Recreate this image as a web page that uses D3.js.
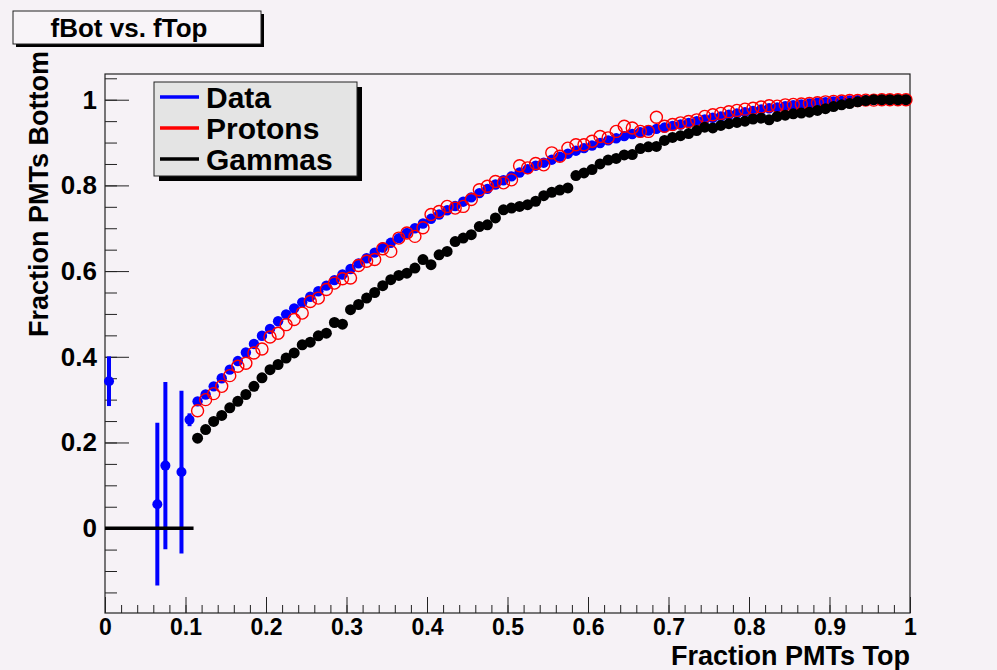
<!DOCTYPE html>
<html>
<head>
<meta charset="utf-8">
<script src="https://cdn.jsdelivr.net/npm/d3@7"></script>
<style>
  html, body { margin: 0; padding: 0; background: #f6f2f6; }
  svg { display: block; font-family: "Liberation Sans", Arial, Helvetica, sans-serif; font-weight: bold; }
</style>
</head>
<body>
<div id="chart"></div>
<script>
// profile bins (width 0.01), full bins start at 0.115
const binWidth = 0.01;
const firstBin = 0.115;

// low-statistics data bins with their error bars
const dataLowX = [0.005, 0.065, 0.075, 0.095, 0.105];
const dataLowY = [0.343, 0.056, 0.146, 0.131, 0.253];
const dataLowErr = [0.058, 0.19, 0.195, 0.19, 0.015];

// Data (blue), 0.115 .. 0.995
const dataY = [
  0.296, 0.312, 0.331, 0.350, 0.370, 0.390, 0.410, 0.430, 0.449, 0.465,
  0.483, 0.499, 0.513, 0.527, 0.540, 0.553, 0.566, 0.579, 0.592, 0.605,
  0.618, 0.630, 0.643, 0.655, 0.666, 0.677, 0.689, 0.700, 0.711, 0.722,
  0.732, 0.742, 0.752, 0.762, 0.772, 0.782, 0.792, 0.802, 0.812, 0.821,
  0.830, 0.838, 0.846, 0.853, 0.860, 0.867, 0.874, 0.881, 0.887, 0.893,
  0.899, 0.905, 0.910, 0.915, 0.920, 0.924, 0.928, 0.932, 0.935, 0.939,
  0.942, 0.946, 0.950, 0.954, 0.958, 0.961, 0.965, 0.968, 0.971, 0.974,
  0.977, 0.980, 0.982, 0.985, 0.987, 0.989, 0.991, 0.993, 0.994, 0.996,
  0.997, 0.998, 0.999, 0.999, 1.000, 1.000, 1.000, 1.000, 1.000
];

// Protons (red open circles)
const protonY = [
  0.274, 0.300, 0.314, 0.331, 0.356, 0.378, 0.385, 0.409, 0.418, 0.446,
  0.455, 0.475, 0.487, 0.502, 0.529, 0.537, 0.557, 0.572, 0.582, 0.584,
  0.613, 0.623, 0.627, 0.652, 0.646, 0.677, 0.689, 0.681, 0.701, 0.732,
  0.739, 0.751, 0.747, 0.751, 0.767, 0.790, 0.798, 0.809, 0.806, 0.813,
  0.846, 0.841, 0.851, 0.848, 0.876, 0.868, 0.887, 0.895, 0.895, 0.903,
  0.914, 0.911, 0.926, 0.938, 0.934, 0.926, 0.926, 0.959, 0.938, 0.942,
  0.946, 0.949, 0.953, 0.961, 0.965, 0.968, 0.972, 0.975, 0.978, 0.980,
  0.983, 0.986, 0.985, 0.988, 0.989, 0.990, 0.991, 0.993, 0.995, 0.996,
  0.997, 0.998, 0.998, 0.999, 0.999, 1.000, 1.000, 1.000, 1.000
];

// Gammas (black)
const gammaY = [
  0.210, 0.230, 0.249, 0.263, 0.281, 0.296, 0.312, 0.331, 0.351, 0.370,
  0.382, 0.397, 0.409, 0.428, 0.434, 0.449, 0.455, 0.480, 0.476, 0.510,
  0.522, 0.537, 0.550, 0.566, 0.580, 0.590, 0.595, 0.607, 0.627, 0.615,
  0.638, 0.646, 0.669, 0.677, 0.685, 0.704, 0.708, 0.724, 0.743, 0.747,
  0.751, 0.755, 0.763, 0.776, 0.784, 0.789, 0.794, 0.823, 0.829, 0.837,
  0.850, 0.859, 0.863, 0.871, 0.872, 0.886, 0.890, 0.891, 0.905, 0.912,
  0.916, 0.921, 0.928, 0.936, 0.934, 0.940, 0.944, 0.947, 0.950, 0.955,
  0.957, 0.953, 0.961, 0.964, 0.967, 0.969, 0.971, 0.975, 0.979, 0.984,
  0.988, 0.991, 0.995, 0.998, 1.000, 1.000, 1.000, 1.000, 1.000
];
// empty gamma bins drawn at zero
const gammaEmptyRange = [0, 0.11];

const xTicks = [0, 0.1, 0.2, 0.3, 0.4, 0.5, 0.6, 0.7, 0.8, 0.9, 1];
const yTicks = [0, 0.2, 0.4, 0.6, 0.8, 1];
const legendItems = [
  { label: 'Data', color: '#0000ff' },
  { label: 'Protons', color: '#ff0000' },
  { label: 'Gammas', color: '#000000' }
];

const cw = 997, ch = 670;
const margin = { top: 74, right: 87, bottom: 57, left: 105 };
const w = cw - margin.left - margin.right;
const h = ch - margin.top - margin.bottom;

const svg = d3.select('#chart').append('svg')
  .attr('width', cw).attr('height', ch);

svg.append('rect').attr('width', cw).attr('height', ch).attr('fill', '#f6f2f6');

const g = svg.append('g').attr('transform', `translate(${margin.left},${margin.top})`);

const x = d3.scaleLinear().domain([0, 1]).range([0, w]);
const y = d3.scaleLinear().domain([-0.198, 1.06]).range([h, 0]);

const toPts = arr => arr.map((v, i) => ({ x: firstBin + i * binWidth, y: v }));

// Frame
g.append('rect').attr('width', w).attr('height', h)
  .attr('fill', 'none').attr('stroke', '#222').attr('stroke-width', 1.2);

// X axis: major + minor ticks pointing inward
const xMinor = d3.range(0, 1.0001, 0.02);
g.append('g').attr('class', 'axis')
  .attr('transform', `translate(0,${h})`)
  .call(d3.axisBottom(x).tickValues(xMinor).tickSizeInner(-8).tickSizeOuter(0).tickFormat(''))
  .call(a => a.select('.domain').remove());
g.append('g').attr('class', 'axis')
  .attr('transform', `translate(0,${h})`)
  .call(d3.axisBottom(x).tickValues(xTicks).tickSizeInner(-16).tickSizeOuter(0).tickPadding(6)
    .tickFormat(d => d3.format('')(d)))
  .call(a => a.select('.domain').remove())
  .call(a => a.selectAll('text').attr('font-size', 23).attr('font-family', null).attr('fill', '#000'));

// Y axis
const yMinor = d3.range(-0.15, 1.0601, 0.05);
g.append('g').attr('class', 'axis')
  .call(d3.axisLeft(y).tickValues(yMinor).tickSizeInner(-12).tickSizeOuter(0).tickFormat(''))
  .call(a => a.select('.domain').remove());
g.append('g').attr('class', 'axis')
  .call(d3.axisLeft(y).tickValues(yTicks).tickSizeInner(-24).tickSizeOuter(0).tickPadding(8)
    .tickFormat(d => d3.format('')(d)))
  .call(a => a.select('.domain').remove())
  .call(a => a.selectAll('text').attr('font-size', 26).attr('font-family', null).attr('fill', '#000'));

g.selectAll('.axis line').attr('stroke', '#222');

// Axis titles
g.append('text').attr('x', w).attr('y', h + 52)
  .attr('text-anchor', 'end').attr('font-size', 27)
  .text('Fraction PMTs Top');
g.append('text').attr('transform', `translate(${-57},${-23}) rotate(-90)`)
  .attr('text-anchor', 'end').attr('font-size', 27)
  .text('Fraction PMTs Bottom');

// Data: low-x bins with error bars
const lowPts = dataLowX.map((v, i) => ({ x: v, y: dataLowY[i], e: dataLowErr[i] }));
g.selectAll('.low-err').data(lowPts).join('line')
  .attr('x1', d => x(d.x)).attr('x2', d => x(d.x))
  .attr('y1', d => y(d.y - d.e)).attr('y2', d => y(d.y + d.e))
  .attr('stroke', '#0000ff').attr('stroke-width', 4);
g.selectAll('.low-pt').data(lowPts).join('circle')
  .attr('cx', d => x(d.x)).attr('cy', d => y(d.y)).attr('r', 5)
  .attr('fill', '#0000ff');

// Data main bins
g.selectAll('.data-pt').data(toPts(dataY)).join('circle')
  .attr('cx', d => x(d.x)).attr('cy', d => y(d.y)).attr('r', 5.2)
  .attr('fill', '#0000ff');

// Protons
g.selectAll('.proton-pt').data(toPts(protonY)).join('circle')
  .attr('cx', d => x(d.x)).attr('cy', d => y(d.y)).attr('r', 6)
  .attr('fill', 'none').attr('stroke', '#ff0000').attr('stroke-width', 1.4);

// Gammas
g.append('line')
  .attr('x1', x(gammaEmptyRange[0])).attr('x2', x(gammaEmptyRange[1]))
  .attr('y1', y(0)).attr('y2', y(0))
  .attr('stroke', '#000').attr('stroke-width', 3.5);
g.selectAll('.gamma-pt').data(toPts(gammaY)).join('circle')
  .attr('cx', d => x(d.x)).attr('cy', d => y(d.y)).attr('r', 5.5)
  .attr('fill', '#000');

// Legend
const lg = svg.append('g').attr('transform', 'translate(154,82)');
lg.append('rect').attr('x', 5).attr('y', 5).attr('width', 203).attr('height', 94).attr('fill', '#000');
lg.append('rect').attr('width', 203).attr('height', 94)
  .attr('fill', '#e4e4e4').attr('stroke', '#222').attr('stroke-width', 1);
legendItems.forEach((d, i) => {
  const ly = 15 + i * 31;
  lg.append('line').attr('x1', 6).attr('x2', 45).attr('y1', ly).attr('y2', ly)
    .attr('stroke', d.color).attr('stroke-width', 3.5);
  lg.append('text').attr('x', 52).attr('y', ly).attr('dy', '0.36em')
    .attr('font-size', 30).text(d.label);
});

// Title box
const tb = svg.append('g').attr('transform', 'translate(13,11)');
tb.append('rect').attr('x', 3).attr('y', 3).attr('width', 248).attr('height', 33).attr('fill', '#000');
tb.append('rect').attr('width', 248).attr('height', 33)
  .attr('fill', '#f8f4f8').attr('stroke', '#222').attr('stroke-width', 1);
tb.append('text').attr('x', 116).attr('y', 17).attr('dy', '0.36em')
  .attr('text-anchor', 'middle').attr('font-size', 26).text('fBot vs. fTop');
</script>
</body>
</html>
